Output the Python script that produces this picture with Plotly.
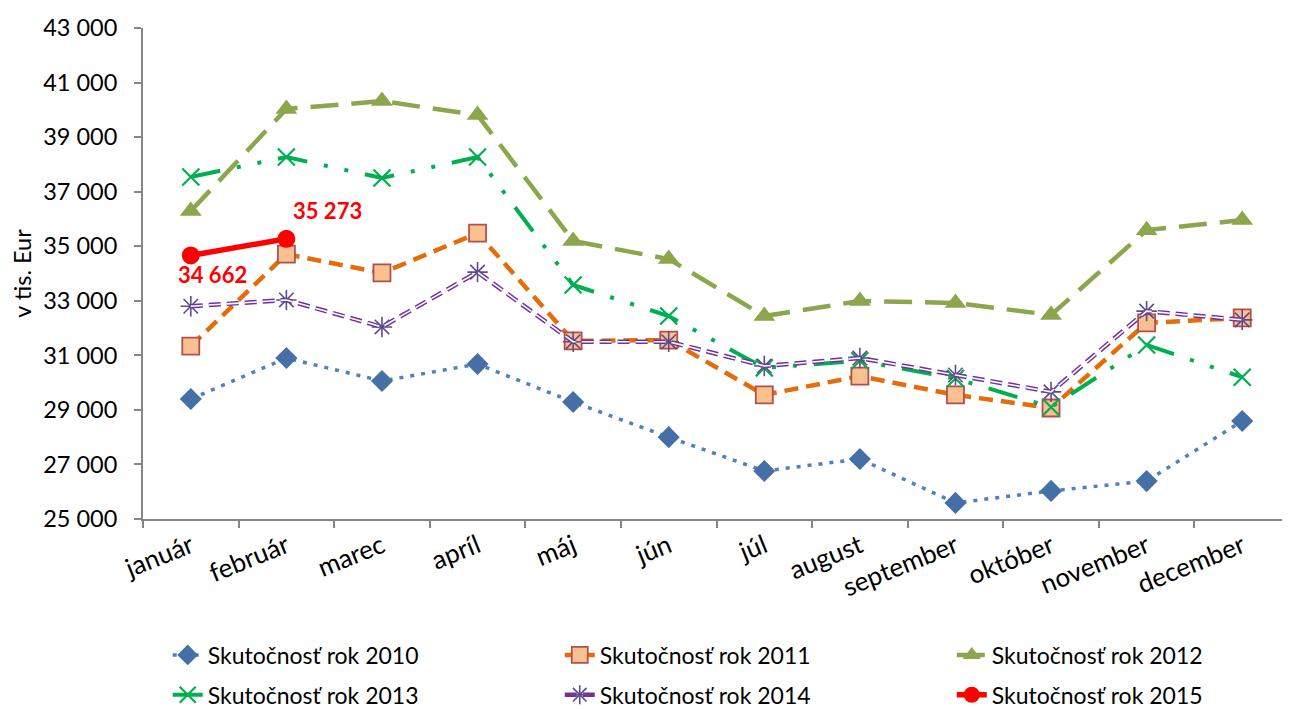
import plotly.graph_objects as go

months = ["január", "február", "marec", "apríl", "máj", "jún", "júl", "august",
          "september", "október", "november", "december"]

v2010 = [29400, 30900, 30060, 30680, 29290, 28000, 26760, 27200, 25590, 26030, 26390, 28590]
v2011 = [31340, 34710, 34020, 35480, 31530, 31560, 29550, 30240, 29550, 29070, 32190, 32370]
v2012 = [36290, 40030, 40320, 39810, 35190, 34530, 32440, 32990, 32920, 32480, 35590, 35960]
v2013 = [37540, 38270, 37500, 38270, 33580, 32440, 30540, 30800, 30150, 29100, 31380, 30200]
v2014 = [32800, 33030, 32040, 34050, 31500, 31500, 30610, 30900, 30280, 29660, 32620, 32300]
v2015 = [34662, 35273]

names = ["Skutočnosť rok 2010", "Skutočnosť rok 2011", "Skutočnosť rok 2012",
         "Skutočnosť rok 2013", "Skutočnosť rok 2014", "Skutočnosť rok 2015"]

FONT = "Lato, 'Open Sans', sans-serif"

fig = go.Figure()

fig.add_trace(go.Scatter(
    x=months, y=v2010, name=names[0], mode="lines+markers", legend="legend",
    line=dict(color="#4F81BD", width=3.5, dash="4px,7px"),
    marker=dict(symbol="diamond", size=17, color="#4470A5", line=dict(width=0))))

fig.add_trace(go.Scatter(
    x=months, y=v2011, name=names[1], mode="lines+markers", legend="legend",
    line=dict(color="#E46C0A", width=4.5, dash="14px,8px"),
    marker=dict(symbol="square", size=17, color="#FAC090",
                line=dict(width=1.8, color="#B0504D"))))

fig.add_trace(go.Scatter(
    x=months, y=v2012, name=names[2], mode="lines+markers", legend="legend",
    line=dict(color="#8BA64C", width=4.5, dash="28px,13px"),
    marker=dict(symbol="triangle-up", size=19, color="#8BA64C", line=dict(width=0))))

fig.add_trace(go.Scatter(
    x=months, y=v2013, name=names[3], mode="lines+markers", legend="legend2",
    line=dict(color="#00B050", width=4, dash="30px,17px,4px,17px,4px,17px"),
    marker=dict(symbol="x-thin-open", size=17, color="#00B050",
                line=dict(width=2.2, color="#00B050"))))

fig.add_trace(go.Scatter(
    x=months, y=v2014, name=names[4], mode="lines+markers", legend="legend2",
    line=dict(color="#7030A0", width=4.5, dash="12px,6px"),
    marker=dict(symbol="asterisk-open", size=17, color="#5F4B8B",
                line=dict(width=1.6, color="#5F4B8B"))))

fig.add_trace(go.Scatter(
    x=months, y=v2014, name=names[4], mode="lines", showlegend=False,
    hoverinfo="skip",
    line=dict(color="#FFFFFF", width=1.6, dash="12px,6px")))

fig.add_trace(go.Scatter(
    x=months[:len(v2015)], y=v2015, name=names[5], mode="lines+markers", legend="legend2",
    line=dict(color="#FF0000", width=5.5),
    marker=dict(symbol="circle", size=18, color="#FF0000")))

label_font = dict(family=FONT, size=22, color="#FF0000")
fig.add_annotation(x=months[0], y=v2015[0], text="<b>34 662</b>", showarrow=False,
                   xshift=22, yshift=-19, font=label_font)
fig.add_annotation(x=months[1], y=v2015[1], text="<b>35 273</b>", showarrow=False,
                   xshift=41, yshift=28, font=label_font)

legend_common = dict(orientation="h", xanchor="left", yanchor="middle",
                     x=-0.002, entrywidthmode="fraction", entrywidth=0.3058,
                     indentation=27, font=dict(family=FONT, size=23, color="#000000"),
                     bgcolor="rgba(0,0,0,0)", itemwidth=30)

# page body has an 8px margin: figure is sized/margined so the plot area
# lands at page x 143..1290, y 28..519
fig.update_layout(
    width=1282, height=701,
    margin=dict(l=135, r=0, t=20, b=190, autoexpand=False),
    paper_bgcolor="white", plot_bgcolor="white",
    separators=", ",
    showlegend=True,
    legend=dict(y=-0.277, **legend_common),
    legend2=dict(y=-0.358, **legend_common),
    font=dict(family=FONT, size=22, color="#000000"),
    xaxis=dict(
        type="category", range=[-0.5, 11.5], tickson="boundaries", automargin=False,
        showline=True, linecolor="#868686", linewidth=2,
        ticks="outside", ticklen=7, tickcolor="#868686", tickwidth=1.5,
        showgrid=False, zeroline=False, tickangle=-22,
        tickfont=dict(family=FONT, size=26, color="#000000")),
    yaxis=dict(
        range=[25000, 43000], dtick=2000, tick0=25000, tickformat=",d", automargin=False,
        showline=True, linecolor="#868686", linewidth=2,
        ticks="outside", ticklen=7, tickcolor="#868686", tickwidth=1.5,
        showgrid=False, zeroline=False, ticklabelstandoff=12,
        tickfont=dict(family=FONT, size=23.5, color="#000000"),
        title=dict(text="v tis. Eur", font=dict(family=FONT, size=23.5, color="#000000"),
                   standoff=16)),
)

fig.write_html("out.html")
